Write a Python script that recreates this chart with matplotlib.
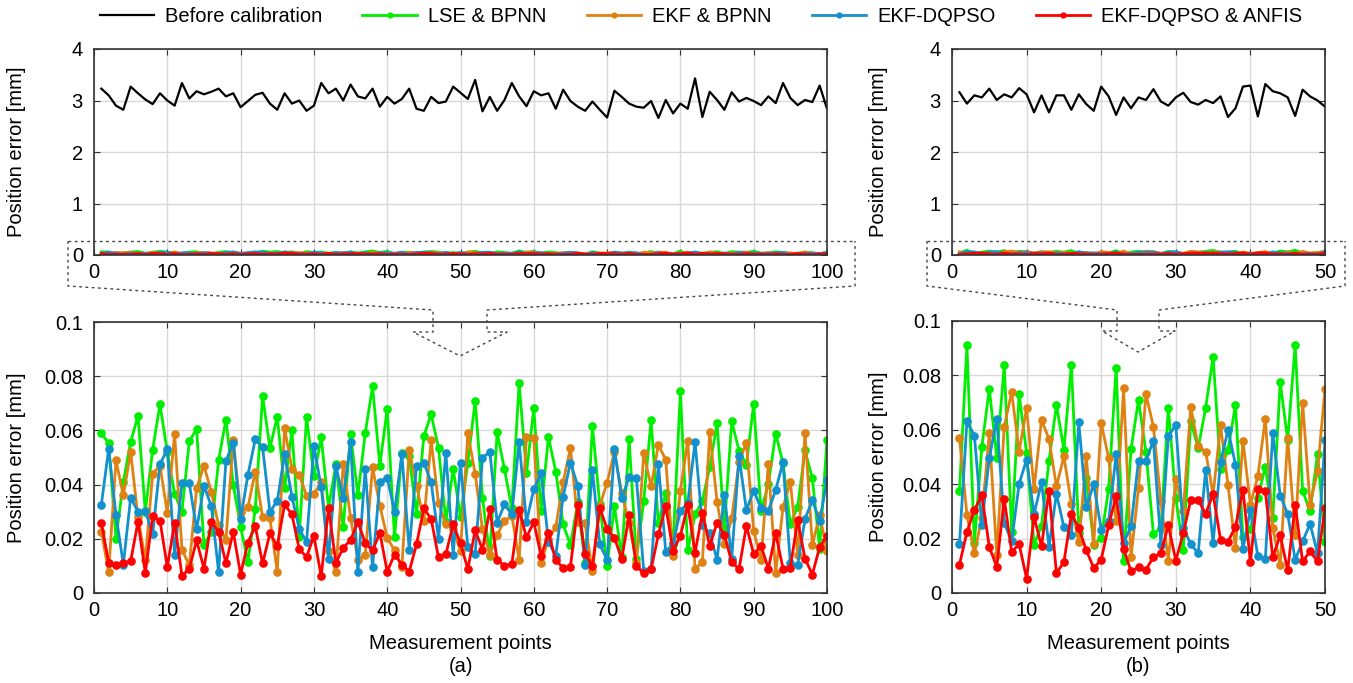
import matplotlib
matplotlib.use('Agg')
import matplotlib.pyplot as plt
import numpy as np
from matplotlib.lines import Line2D

plt.rcParams['font.family'] = ['Liberation Sans', 'DejaVu Sans']

# ---- data (a): 100 measurement points ----
a_before = [3.23, 3.10, 2.90, 2.82, 3.27, 3.14, 3.02, 2.93, 3.14, 3.00,
            2.90, 3.34, 3.04, 3.18, 3.12, 3.17, 3.23, 3.08, 3.14, 2.87,
            2.99, 3.11, 3.15, 2.94, 2.82, 3.14, 2.94, 3.00, 2.80, 2.90,
            3.34, 3.14, 3.23, 3.00, 3.31, 3.08, 3.04, 3.23, 2.88, 3.07,
            2.94, 3.03, 3.23, 2.84, 2.80, 3.07, 2.95, 2.98, 3.27, 3.15,
            3.03, 3.40, 2.79, 3.07, 2.80, 3.01, 3.34, 3.08, 2.89, 3.18,
            3.10, 3.14, 2.84, 3.21, 2.99, 2.88, 2.80, 2.98, 2.82, 2.67,
            3.19, 3.07, 2.94, 2.88, 2.86, 2.99, 2.66, 3.01, 2.75, 2.94,
            2.84, 3.43, 2.68, 3.17, 3.01, 2.82, 3.16, 2.98, 3.05, 2.99,
            2.91, 3.08, 2.95, 3.34, 3.05, 2.91, 3.01, 2.97, 3.29, 2.84]
a_lse = [0.0589, 0.0553, 0.0200, 0.0410, 0.0557, 0.0654, 0.0300, 0.0528, 0.0696, 0.0520,
         0.0365, 0.0300, 0.0560, 0.0605, 0.0177, 0.0226, 0.0490, 0.0640, 0.0400, 0.0243,
         0.0115, 0.0310, 0.0727, 0.0535, 0.0650, 0.0386, 0.0600, 0.0207, 0.0650, 0.0430,
         0.0574, 0.0315, 0.0475, 0.0242, 0.0586, 0.0360, 0.0589, 0.0762, 0.0470, 0.0680,
         0.0206, 0.0516, 0.0504, 0.0290, 0.0579, 0.0660, 0.0535, 0.0263, 0.0458, 0.0280,
         0.0480, 0.0710, 0.0352, 0.0135, 0.0593, 0.0457, 0.0312, 0.0775, 0.0442, 0.0681,
         0.0304, 0.0575, 0.0448, 0.0253, 0.0177, 0.0337, 0.0109, 0.0617, 0.0327, 0.0100,
         0.0321, 0.0131, 0.0568, 0.0127, 0.0340, 0.0638, 0.0257, 0.0368, 0.0177, 0.0744,
         0.0158, 0.0290, 0.0340, 0.0464, 0.0627, 0.0240, 0.0633, 0.0525, 0.0473, 0.0698,
         0.0302, 0.0402, 0.0588, 0.0479, 0.0253, 0.0319, 0.0526, 0.0423, 0.0164, 0.0565]
a_ekf = [0.0226, 0.0078, 0.0490, 0.0360, 0.0520, 0.0280, 0.0120, 0.0440, 0.0470, 0.0296,
         0.0586, 0.0160, 0.0102, 0.0386, 0.0470, 0.0374, 0.0250, 0.0195, 0.0565, 0.0300,
         0.0317, 0.0448, 0.0280, 0.0275, 0.0078, 0.0609, 0.0458, 0.0436, 0.0359, 0.0364,
         0.0409, 0.0154, 0.0078, 0.0477, 0.0278, 0.0123, 0.0140, 0.0464, 0.0322, 0.0204,
         0.0157, 0.0095, 0.0528, 0.0396, 0.0267, 0.0563, 0.0331, 0.0253, 0.0238, 0.0155,
         0.0590, 0.0440, 0.0235, 0.0142, 0.0214, 0.0267, 0.0285, 0.0123, 0.0574, 0.0572,
         0.0109, 0.0200, 0.0243, 0.0409, 0.0535, 0.0263, 0.0257, 0.0080, 0.0322, 0.0407,
         0.0522, 0.0368, 0.0257, 0.0112, 0.0516, 0.0393, 0.0547, 0.0491, 0.0135, 0.0378,
         0.0562, 0.0090, 0.0115, 0.0594, 0.0337, 0.0179, 0.0275, 0.0485, 0.0553, 0.0228,
         0.0123, 0.0475, 0.0074, 0.0316, 0.0411, 0.0140, 0.0591, 0.0177, 0.0288, 0.0154]
a_dqpso = [0.0325, 0.0532, 0.0288, 0.0105, 0.0352, 0.0300, 0.0302, 0.0216, 0.0475, 0.0530,
           0.0140, 0.0405, 0.0405, 0.0235, 0.0395, 0.0322, 0.0078, 0.0488, 0.0554, 0.0273,
           0.0436, 0.0567, 0.0538, 0.0299, 0.0340, 0.0512, 0.0356, 0.0236, 0.0189, 0.0543,
           0.0391, 0.0127, 0.0467, 0.0352, 0.0556, 0.0078, 0.0458, 0.0096, 0.0411, 0.0426,
           0.0300, 0.0512, 0.0160, 0.0470, 0.0480, 0.0409, 0.0199, 0.0517, 0.0142, 0.0481,
           0.0168, 0.0144, 0.0498, 0.0522, 0.0260, 0.0327, 0.0290, 0.0556, 0.0263, 0.0383,
           0.0441, 0.0189, 0.0137, 0.0356, 0.0481, 0.0396, 0.0105, 0.0454, 0.0179, 0.0123,
           0.0531, 0.0349, 0.0427, 0.0423, 0.0080, 0.0090, 0.0475, 0.0152, 0.0183, 0.0304,
           0.0331, 0.0557, 0.0250, 0.0220, 0.0123, 0.0362, 0.0127, 0.0504, 0.0306, 0.0378,
           0.0312, 0.0304, 0.0380, 0.0483, 0.0109, 0.0102, 0.0273, 0.0342, 0.0265, 0.0416]
a_anfis = [0.0260, 0.0112, 0.0105, 0.0112, 0.0117, 0.0263, 0.0075, 0.0283, 0.0267, 0.0096,
           0.0260, 0.0063, 0.0090, 0.0194, 0.0090, 0.0263, 0.0225, 0.0110, 0.0226, 0.0068,
           0.0186, 0.0246, 0.0109, 0.0220, 0.0173, 0.0327, 0.0290, 0.0162, 0.0133, 0.0210,
           0.0062, 0.0315, 0.0111, 0.0167, 0.0195, 0.0263, 0.0184, 0.0157, 0.0222, 0.0079,
           0.0142, 0.0105, 0.0079, 0.0180, 0.0312, 0.0273, 0.0131, 0.0143, 0.0253, 0.0183,
           0.0088, 0.0232, 0.0160, 0.0309, 0.0121, 0.0101, 0.0106, 0.0306, 0.0205, 0.0262,
           0.0136, 0.0220, 0.0121, 0.0093, 0.0096, 0.0325, 0.0144, 0.0100, 0.0315, 0.0236,
           0.0204, 0.0125, 0.0288, 0.0100, 0.0072, 0.0088, 0.0216, 0.0321, 0.0154, 0.0211,
           0.0325, 0.0149, 0.0296, 0.0173, 0.0260, 0.0214, 0.0115, 0.0088, 0.0247, 0.0144,
           0.0174, 0.0090, 0.0220, 0.0090, 0.0094, 0.0269, 0.0127, 0.0068, 0.0170, 0.0210]

# ---- data (b): 50 measurement points ----
b_before = [3.16, 2.94, 3.10, 3.06, 3.23, 3.01, 3.12, 3.06, 3.24, 3.12,
            2.77, 3.10, 2.77, 3.10, 3.10, 2.82, 3.12, 2.93, 2.80, 3.27,
            3.08, 2.72, 3.06, 2.85, 3.06, 3.01, 3.22, 2.98, 2.90, 3.06,
            3.15, 2.97, 2.92, 3.01, 2.95, 3.08, 2.68, 2.85, 3.27, 3.29,
            2.69, 3.32, 3.18, 3.14, 3.06, 2.70, 3.21, 3.08, 3.00, 2.88]
b_lse = [0.0374, 0.0910, 0.0182, 0.0536, 0.0751, 0.0498, 0.0838, 0.0224, 0.0731, 0.0514,
         0.0178, 0.0247, 0.0484, 0.0692, 0.0527, 0.0839, 0.0220, 0.0423, 0.0178, 0.0202,
         0.0383, 0.0829, 0.0116, 0.0529, 0.0710, 0.0518, 0.0217, 0.0239, 0.0680, 0.0349,
         0.0158, 0.0631, 0.0533, 0.0680, 0.0868, 0.0457, 0.0525, 0.0692, 0.0205, 0.0236,
         0.0349, 0.0465, 0.0276, 0.0775, 0.0561, 0.0912, 0.0376, 0.0300, 0.0512, 0.0186]
b_ekf = [0.0570, 0.0288, 0.0146, 0.0276, 0.0588, 0.0141, 0.0612, 0.0738, 0.0520, 0.0680,
         0.0383, 0.0637, 0.0566, 0.0392, 0.0502, 0.0328, 0.0186, 0.0502, 0.0180, 0.0625,
         0.0496, 0.0266, 0.0753, 0.0131, 0.0386, 0.0731, 0.0612, 0.0337, 0.0119, 0.0420,
         0.0300, 0.0683, 0.0539, 0.0520, 0.0361, 0.0616, 0.0396, 0.0165, 0.0560, 0.0325,
         0.0430, 0.0640, 0.0239, 0.0104, 0.0570, 0.0214, 0.0700, 0.0325, 0.0447, 0.0750]
b_dqpso = [0.0180, 0.0631, 0.0579, 0.0251, 0.0496, 0.0640, 0.0257, 0.0190, 0.0402, 0.0490,
           0.0290, 0.0407, 0.0169, 0.0365, 0.0242, 0.0214, 0.0627, 0.0315, 0.0400, 0.0233,
           0.0263, 0.0510, 0.0184, 0.0245, 0.0487, 0.0487, 0.0560, 0.0178, 0.0576, 0.0618,
           0.0240, 0.0180, 0.0146, 0.0453, 0.0184, 0.0481, 0.0600, 0.0472, 0.0163, 0.0305,
           0.0135, 0.0125, 0.0587, 0.0358, 0.0290, 0.0122, 0.0190, 0.0254, 0.0146, 0.0561]
b_anfis = [0.0104, 0.0224, 0.0305, 0.0360, 0.0169, 0.0096, 0.0347, 0.0151, 0.0180, 0.0053,
           0.0280, 0.0171, 0.0376, 0.0073, 0.0114, 0.0290, 0.0239, 0.0157, 0.0092, 0.0122,
           0.0249, 0.0355, 0.0162, 0.0080, 0.0094, 0.0086, 0.0132, 0.0147, 0.0249, 0.0119,
           0.0219, 0.0342, 0.0342, 0.0291, 0.0364, 0.0195, 0.0189, 0.0244, 0.0380, 0.0113,
           0.0382, 0.0374, 0.0132, 0.0212, 0.0083, 0.0325, 0.0116, 0.0153, 0.0116, 0.0312]

labels = ['Before calibration', 'LSE & BPNN', 'EKF & BPNN', 'EKF-DQPSO', 'EKF-DQPSO & ANFIS']
colors = ['black', '#00ee00', '#de8214', '#1391cc', '#ff0000']

W, H = 1353, 683
FS = 14.5


def px_rect(l, t, r, b):
    return [l / W, 1 - b / H, (r - l) / W, (b - t) / H]


def style_axes(ax):
    ax.grid(True, color='#d9d9d9', linewidth=1)
    ax.set_axisbelow(True)
    ax.tick_params(direction='in', top=True, right=True, length=4,
                   labelsize=FS, color='#333333')
    ax.tick_params(axis='y', pad=8)
    ax.tick_params(axis='x', pad=6)
    for s in ax.spines.values():
        s.set_color('#333333')
        s.set_linewidth(1.2)


def draw_panel(ax_top, ax_bot, before, series, n, ticks, ylab_x):
    x = np.arange(1, n + 1)
    ax_top.plot(x, before, color=colors[0], linewidth=1.6)
    for vals, c in zip(series, colors[1:]):
        ax_top.plot(x, vals, color=c, linewidth=2.2)
    ax_top.set_xlim(0, n)
    ax_top.set_ylim(0, 4)
    ax_top.set_xticks(ticks)
    ax_top.set_yticks([0, 1, 2, 3, 4])
    ax_top.set_ylabel('Position error [mm]', fontsize=FS)
    ax_top.yaxis.set_label_coords(ylab_x, 0.5)
    style_axes(ax_top)

    for vals, c in zip(series, colors[1:]):
        ax_bot.plot(x, vals, color=c, linewidth=2, marker='o', markersize=5.2)
    ax_bot.set_xlim(0, n)
    ax_bot.set_ylim(0, 0.1)
    ax_bot.set_xticks(ticks)
    ax_bot.set_yticks([0, 0.02, 0.04, 0.06, 0.08, 0.1])
    ax_bot.set_yticklabels(['0', '0.02', '0.04', '0.06', '0.08', '0.1'])
    ax_bot.set_ylabel('Position error [mm]', fontsize=FS)
    ax_bot.yaxis.set_label_coords(ylab_x, 0.5)
    ax_bot.set_xlabel('Measurement points', fontsize=FS, labelpad=10)
    style_axes(ax_bot)


fig = plt.figure(figsize=(W / 100, H / 100), dpi=100)

ax1 = fig.add_axes(px_rect(94, 49, 827, 255))
ax2 = fig.add_axes(px_rect(94, 322, 827, 593))
ax3 = fig.add_axes(px_rect(952, 49, 1325, 255))
ax4 = fig.add_axes(px_rect(952, 321, 1325, 593))

draw_panel(ax1, ax2, a_before, [a_lse, a_ekf, a_dqpso, a_anfis], 100,
           range(0, 101, 10), (26 - 94) / 733)
draw_panel(ax3, ax4, b_before, [b_lse, b_ekf, b_dqpso, b_anfis], 50,
           range(0, 51, 10), (888 - 952) / 373)

fig.text(461 / W, 1 - 666 / H, '(a)', ha='center', va='center', fontsize=FS)
fig.text(1138 / W, 1 - 666 / H, '(b)', ha='center', va='center', fontsize=FS)


# zoom box and block arrow (figure pixel coords)
def dotted(pts):
    xs = [p[0] / W for p in pts]
    ys = [1 - p[1] / H for p in pts]
    fig.add_artist(Line2D(xs, ys, transform=fig.transFigure, color='#444444',
                          linewidth=1, linestyle=(0, (2, 2.5))))


def zoom_marker(bl, br, top, bot, sl, sr, hl, hr, tipx, shaft_top, head_y, tip_y):
    dotted([(bl, top), (br, top)])
    dotted([(bl, top), (bl, bot), (sl, shaft_top), (sl, head_y), (hl, head_y),
            (tipx, tip_y), (hr, head_y), (sr, head_y), (sr, shaft_top), (br, bot), (br, top)])


zoom_marker(68, 855, 241, 286, 433, 487, 413, 507, 460, 310, 332, 356)
zoom_marker(927, 1345, 241, 286, 1117, 1159, 1102, 1175, 1138, 310, 331, 352)

# legend
handles = [Line2D([], [], color=colors[0], linewidth=1.6)]
for c in colors[1:]:
    handles.append(Line2D([], [], color=c, linewidth=2, marker='o', markersize=3.5))
fig.legend(handles, labels, loc='center', bbox_to_anchor=(701 / W, 1 - 17 / H), ncol=5,
           frameon=False, fontsize=FS, handlelength=2.7, handletextpad=0.55,
           columnspacing=2.0)

fig.savefig('out.png', dpi=100)
